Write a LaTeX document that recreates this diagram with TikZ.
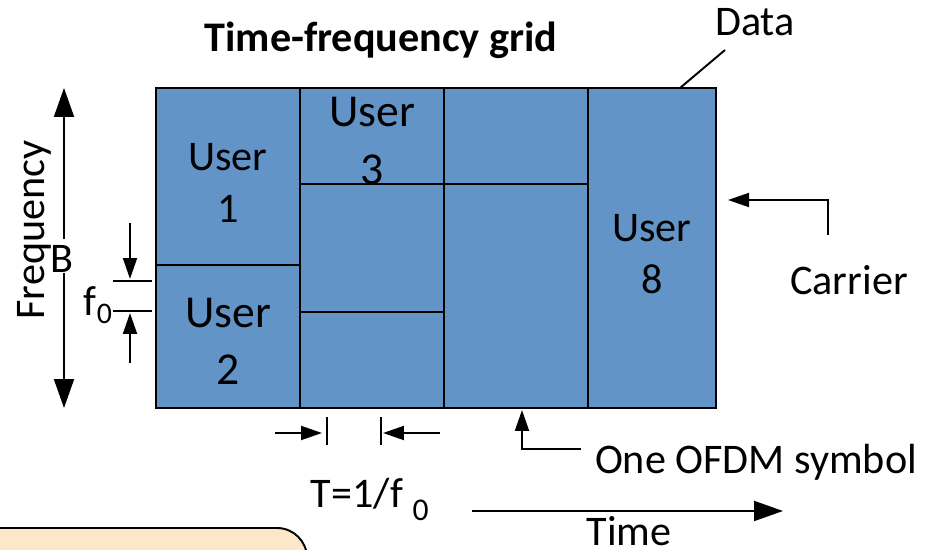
\documentclass[tikz,border=0pt]{standalone}
\usepackage{fontspec}
\setmainfont{Carlito}
\usetikzlibrary{arrows.meta}
\definecolor{gridblue}{RGB}{98,148,200}
\definecolor{notepeach}{RGB}{253,231,201}

\begin{document}
\begin{tikzpicture}[x=0.02cm,y=-0.02cm,line width=1.1pt,
  >={Triangle[length=4.2mm,width=2.8mm]},
  big arrow/.style={-{Triangle[length=5.8mm,width=4mm]}},
  cell/.style={rectangle,draw,fill=gridblue,inner sep=0pt,
    minimum width=2.88cm},
  user/.style={align=center,font=\fontsize{24}{30}\selectfont},
  big user/.style={align=center,font=\fontsize{26}{32.5}\selectfont},
  txt/.style={font=\fontsize{24}{29}\selectfont}]

  \useasboundingbox (0,0) rectangle (934,550);
  \clip (0,0) rectangle (934,550);

  % the grid
  \node[cell,minimum height=3.54cm] (u1) at (228,176.5) {};
  \node[cell,minimum height=2.86cm] (u2) at (228,336.5) {};
  \node[cell,minimum height=1.92cm] (u3) at (372,136) {};
  \node[cell,minimum height=2.56cm] (c2m) at (372,248) {};
  \node[cell,minimum height=1.92cm] (c2b) at (372,360) {};
  \node[cell,minimum height=1.92cm] (c3t) at (516,136) {};
  \node[cell,minimum height=4.48cm] (c3b) at (516,296) {};
  \node[cell,minimum width=2.56cm,minimum height=6.4cm] (u8) at (652,248) {};

  \node[user] (l1) at (228,183) {User\\1};
  \node[big user] (l2) at (228,341) {User\\2};
  \node[big user] (l3) at (372,141) {User\\3};
  \node[user] (l8) at (652,254) {User\\8};

  \node[anchor=base,font=\fontsize{24}{29}\selectfont\bfseries] (title)
    at (381,52) {Time-frequency grid};
  \node[txt,anchor=base] (data) at (755,36) {Data};
  \node[txt,anchor=base] (carrier) at (849,295) {Carrier};
  \node[txt,anchor=base] (ofdm) at (756,474) {One OFDM symbol};
  \node[txt,anchor=base,inner sep=1pt] (time) at (629,546) {Time};
  \node[txt,rotate=90] (freq) at (34,230) {Frequency};
  \node[txt,anchor=base] (bw) at (62,273) {B};
  \node[txt,anchor=base west,inner sep=0pt] (f0) at (83,316)
    {f\raisebox{-4pt}{\fontsize{17}{17}\selectfont 0}};
  \node[txt,anchor=base west,inner sep=0pt] (tsym) at (310,508)
    {T=1/f {\fontsize{18}{18}\selectfont\raisebox{-7pt}{0}}};

  \coordinate (ftop) at (64,88);
  \coordinate (fbot) at (64,408);
  \coordinate (dfoot) at (680,88);
  \coordinate (dhead) at (725,50);
  \coordinate (cfoot) at (828,235);
  \coordinate (ctip) at (728,200);
  \coordinate (ofoot) at (581,449);
  \coordinate (otip) at (522,410);
  \coordinate (tstart) at (472,511);
  \coordinate (tend) at (783,511);

  \draw[big arrow] (bw.north -| ftop) -- (ftop);
  \draw[big arrow] (bw.base -| fbot) -- (fbot);
  \draw (dfoot) -- (dhead);
  \draw[->] (cfoot) |- (ctip);
  \draw[->] (ofoot) -| (otip);
  \draw[big arrow] (tstart) -- (tend);

  % f0 and T marks
  \draw (113,281) -- (152,281) (113,311) -- (152,311);
  \draw[->] (130,223) -- (130,279);
  \draw[->] (130,363) -- (130,313);
  \draw (327,417) -- (327,445) (381,417) -- (381,445);
  \draw[->] (275,433) -- (322,433);
  \draw[->] (440,433) -- (383,433);

  \draw[fill=notepeach,rounded corners=0.6cm] (-30,528) rectangle (307,640);
\end{tikzpicture}
\end{document}
